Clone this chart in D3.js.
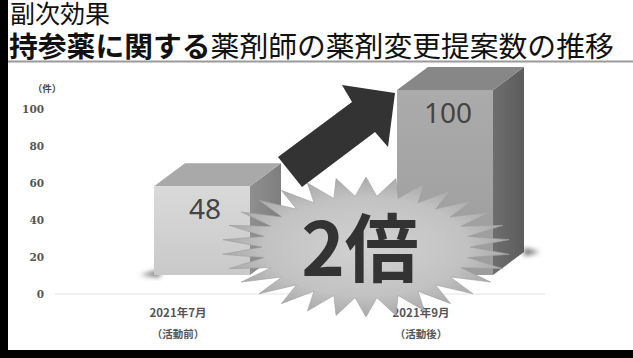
<!DOCTYPE html>
<html>
<head>
<meta charset="utf-8">
<script src="https://cdn.jsdelivr.net/npm/d3@7"></script>
<style>
  body { margin: 0; background: #fff; }
  svg { display: block; }
</style>
</head>
<body>
<div id="chart"></div>
<script>
// Data
const categories = ["2021年7月", "2021年9月"];
const subLabels = ["（活動前）", "（活動後）"];
const values = [48, 100];
const yTicks = [0, 20, 40, 60, 80, 100];

const W = 633, H = 358;

const svg = d3.select("#chart").append("svg")
  .attr("width", W)
  .attr("height", H);

const defs = svg.append("defs");

// gradients
function linGrad(id, c1, c2, x2 = "0", y2 = "1") {
  const g = defs.append("linearGradient").attr("id", id)
    .attr("x1", "0").attr("y1", "0").attr("x2", x2).attr("y2", y2);
  g.append("stop").attr("offset", "0%").attr("stop-color", c1);
  g.append("stop").attr("offset", "100%").attr("stop-color", c2);
}
linGrad("front0", "#d9d9d9", "#c9c9c9");
linGrad("front1", "#ababab", "#9c9c9c");
linGrad("side0", "#8f8f8f", "#7e7e7e", "1", "0");
linGrad("side1", "#6e6e6e", "#5c5c5c", "1", "0");

const star = defs.append("radialGradient").attr("id", "starFill");
star.append("stop").attr("offset", "0%").attr("stop-color", "#d2d2d2");
star.append("stop").attr("offset", "70%").attr("stop-color", "#c2c2c2");
star.append("stop").attr("offset", "100%").attr("stop-color", "#a9a9a9");

defs.append("filter").attr("id", "blur")
  .attr("x", "-50%").attr("y", "-50%").attr("width", "200%").attr("height", "200%")
  .append("feGaussianBlur").attr("stdDeviation", 2.5);

// background frame
svg.append("rect").attr("width", W).attr("height", H).attr("fill", "#fff");
svg.append("rect").attr("x", 0).attr("y", 0).attr("width", 8).attr("height", H).attr("fill", "#000");
svg.append("rect").attr("x", 0).attr("y", 350).attr("width", W).attr("height", 8).attr("fill", "#000");

// Title
const jp = "'Noto Sans CJK JP', 'Noto Sans', sans-serif";
svg.append("text")
  .attr("x", 10).attr("y", 23)
  .attr("font-family", jp).attr("font-size", 25)
  .attr("fill", "#111")
  .text("副次効果");

const t2 = svg.append("text")
  .attr("x", 9).attr("y", 57)
  .attr("font-family", jp).attr("font-size", 28.8)
  .attr("fill", "#111");
t2.append("tspan").attr("font-weight", "bold").text("持参薬に関する");
t2.append("tspan").text("薬剤師の薬剤変更提案数の推移");

svg.append("line")
  .attr("x1", 8).attr("x2", W).attr("y1", 61.5).attr("y2", 61.5)
  .attr("stroke", "#9a9a9a").attr("stroke-width", 2);

// Scales
const y = d3.scaleLinear().domain([0, 100]).range([294, 109]);
const x = d3.scalePoint().domain(categories).range([178, 421]);

// Axis
const yAxis = svg.append("g")
  .attr("transform", "translate(44,0)")
  .call(d3.axisLeft(y).tickValues(yTicks).tickSize(0).tickPadding(0));
yAxis.select(".domain").remove();
yAxis.selectAll("text")
  .attr("font-family", "'DejaVu Serif', serif").attr("font-size", 10.5).attr("font-weight", "bold")
  .attr("fill", "#555");

svg.append("text")
  .attr("x", 47).attr("y", 92)
  .attr("text-anchor", "middle")
  .attr("font-family", jp).attr("font-size", 9.5).attr("font-weight", "bold")
  .attr("fill", "#444")
  .text("（件）");

// baseline
svg.append("line")
  .attr("x1", 55).attr("x2", 545)
  .attr("y1", y(0)).attr("y2", y(0))
  .attr("stroke", "#e2e2e2").attr("stroke-width", 1);

// X labels
const xl = svg.append("g");
categories.forEach((c, i) => {
  xl.append("text")
    .attr("x", x(c)).attr("y", 317)
    .attr("text-anchor", "middle")
    .attr("font-family", jp).attr("font-size", 11.5).attr("font-weight", "bold")
    .attr("fill", "#555")
    .text(c);
  xl.append("text")
    .attr("x", x(c)).attr("y", 338)
    .attr("text-anchor", "middle")
    .attr("font-family", jp).attr("font-size", 10.5).attr("font-weight", "bold")
    .attr("fill", "#555")
    .text(subLabels[i]);
});

// 3D bars
const lift = 19, offX = 24, halfW = 48, dx = 31, dy = -23;
const bars = svg.append("g");
values.forEach((v, i) => {
  const cx = x(categories[i]) + offX;
  const x0 = cx - halfW, x1 = cx + halfW;
  const yb = y(0) - lift, yt = y(v) - lift;

  // soft shadow
  if (i === 0) {
    bars.append("path")
      .attr("d", `M${x0 - 14},${yb} L${x0 + 6},${yb - 5} L${x0 + 6},${yb + 2} Z`)
      .attr("fill", "#444").attr("opacity", 0.8).attr("filter", "url(#blur)");
  } else {
    bars.append("path")
      .attr("d", `M${x1 + dx},${yb + dy - 4} L${x1 + dx + 16},${yb + dy} L${x1 + dx},${yb + dy + 4} Z`)
      .attr("fill", "#444").attr("opacity", 0.8).attr("filter", "url(#blur)");
  }

  // side
  bars.append("path")
    .attr("d", `M${x1},${yt} L${x1 + dx},${yt + dy} L${x1 + dx},${yb + dy} L${x1},${yb} Z`)
    .attr("fill", `url(#side${i})`);
  // top
  bars.append("path")
    .attr("d", `M${x0},${yt} L${x0 + dx},${yt + dy} L${x1 + dx},${yt + dy} L${x1},${yt} Z`)
    .attr("fill", i === 0 ? "#a9a9a9" : "#878787");
  // front
  bars.append("rect")
    .attr("x", x0).attr("y", yt)
    .attr("width", x1 - x0).attr("height", yb - yt)
    .attr("fill", `url(#front${i})`);

  bars.append("text")
    .attr("x", cx + 3).attr("y", yt + 33)
    .attr("text-anchor", "middle")
    .attr("font-family", "'Noto Sans', sans-serif").attr("font-size", 28)
    .attr("fill", "#444")
    .text(v);
});

// Arrow
const arrow = [[278, 157], [352, 102], [342, 85], [395, 93], [388, 147], [375, 132], [302, 187]];
svg.append("path")
  .attr("d", d3.line()(arrow) + "Z")
  .attr("fill", "#333");

// Starburst
const scx = 366, scy = 247, rxo = 144, ryo = 70, rxi = 104, ryi = 51, nSpikes = 30;
const pts = [];
for (let k = 0; k < nSpikes * 2; k++) {
  const a = (k / (nSpikes * 2)) * Math.PI * 2 - Math.PI / 2;
  const outer = k % 2 === 0;
  pts.push([scx + (outer ? rxo : rxi) * Math.cos(a), scy + (outer ? ryo : ryi) * Math.sin(a)]);
}
svg.append("path")
  .attr("d", d3.line()(pts) + "Z")
  .attr("fill", "url(#starFill)")
  .attr("stroke", "#9f9f9f").attr("stroke-width", 0.6);

svg.append("text")
  .attr("x", 360).attr("y", 276)
  .attr("text-anchor", "middle")
  .attr("font-family", jp).attr("font-size", 74).attr("font-weight", "bold")
  .attr("fill", "#333")
  .text("2倍");
</script>
</body>
</html>
